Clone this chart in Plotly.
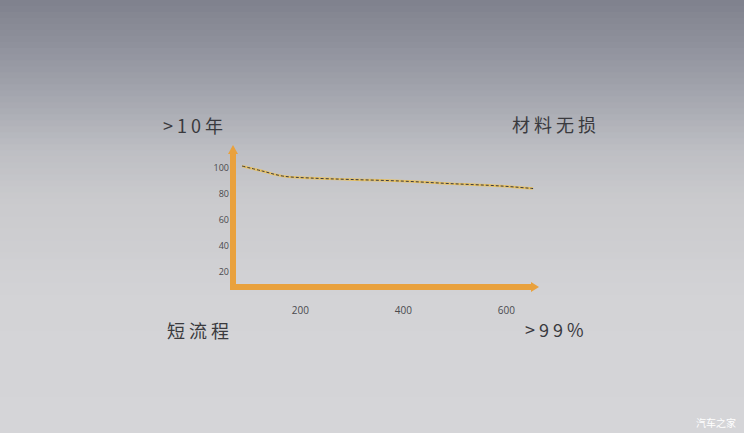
import plotly.graph_objects as go

# ---- data ----
x_vals = [87, 126, 166, 219, 296, 394, 491, 588, 652]
y_vals = [101.5, 97.7, 93.8, 92.3, 91.2, 90.0, 88.0, 86.2, 84.2]
x_ticks = [200, 400, 600]
y_ticks = [20, 40, 60, 80, 100]

W, H = 744, 433
L, R, T, B = 233, 537, 148, 289  # plot area in px

def px(xp):
    return (xp - L) / (R - L)

def py(yp):
    return (B - yp) / (B - T)

fig = go.Figure()
fig.add_trace(go.Scatter(x=x_vals, y=y_vals, mode="lines",
                         line=dict(color="#e8c264", width=2.4, shape="spline"),
                         hoverinfo="skip", showlegend=False))
fig.add_trace(go.Scatter(x=x_vals, y=y_vals, mode="lines",
                         line=dict(color="#3a3a40", width=1, dash="3px,2px", shape="spline"),
                         hoverinfo="skip", showlegend=False))

shapes = []
# background gradient bands
stops = [(0, (127, 129, 141)), (50, (145, 147, 158)), (100, (166, 168, 176)),
         (150, (189, 190, 195)), (200, (202, 202, 205)), (300, (211, 211, 214)),
         (433, (213, 213, 216))]

def col_at(y):
    for (y0, c0), (y1, c1) in zip(stops[:-1], stops[1:]):
        if y0 <= y <= y1:
            t = (y - y0) / (y1 - y0)
            return "rgb(%d,%d,%d)" % tuple(round(a + (b - a) * t) for a, b in zip(c0, c1))
    return "rgb(%d,%d,%d)" % stops[-1][1]

n = 72
for i in range(n):
    y0 = H * i / n
    y1 = H * (i + 1) / n + 0.8
    shapes.append(dict(type="rect", xref="paper", yref="paper", layer="below",
                       x0=px(-2), x1=px(W + 2), y0=py(y1), y1=py(y0),
                       fillcolor=col_at((y0 + y1) / 2), line=dict(width=0)))

orange = "#e9a13d"
# vertical axis
shapes.append(dict(type="line", xref="paper", yref="paper", x0=px(233), x1=px(233),
                   y0=py(290), y1=py(152), line=dict(color=orange, width=6)))
shapes.append(dict(type="path", xref="paper", yref="paper",
                   path="M %f %f L %f %f L %f %f Z" % (px(228), py(154), px(238), py(154), px(233), py(145)),
                   fillcolor=orange, line=dict(width=0)))
# horizontal axis
shapes.append(dict(type="line", xref="paper", yref="paper", x0=px(230), x1=px(533),
                   y0=py(287), y1=py(287), line=dict(color=orange, width=6)))
shapes.append(dict(type="path", xref="paper", yref="paper",
                   path="M %f %f L %f %f L %f %f Z" % (px(531), py(282), px(531), py(292), px(539), py(287)),
                   fillcolor=orange, line=dict(width=0)))

font_cjk = "Noto Sans CJK SC"
ann = []
def label(text, xp, yp, size, color="#3a3a3e", xanchor="left", spacing=None):
    if spacing:
        text = "<span style='letter-spacing:%dpx'>%s</span>" % (spacing, text)
    ann.append(dict(text=text, xref="paper", yref="paper", x=px(xp), y=py(yp),
                    xanchor=xanchor, yanchor="middle", showarrow=False,
                    font=dict(family=font_cjk, size=size, color=color)))

label("&gt;10年", 161, 125, 18, spacing=4)
label("材料无损", 510, 124, 18, spacing=4)
label("短流程", 165, 330, 18, spacing=4)
label("&gt;99%", 523, 329, 18, spacing=4)
label("汽车之家", 738, 422, 10, color="#ffffff", xanchor="right")

fig.update_layout(
    width=W, height=H,
    margin=dict(l=L, r=W - R, t=T, b=H - B),
    paper_bgcolor="#d3d3d6", plot_bgcolor="rgba(0,0,0,0)",
    shapes=shapes, annotations=ann,
    xaxis=dict(range=[69.3, 659.6], tickvals=x_ticks, showgrid=False, zeroline=False,
               showline=False, ticks="", ticklabelstandoff=14,
               tickfont=dict(family="Open Sans", size=10, color="#4a4a4e")),
    yaxis=dict(range=[6.9, 115.4], tickvals=y_ticks, showgrid=False, zeroline=False,
               showline=False, ticks="", ticklabelstandoff=3,
               tickfont=dict(family="Open Sans", size=9, color="#4a4a4e")),
    showlegend=False,
)
fig.write_html("out.html", config={"displayModeBar": False},
               post_script="document.body.style.margin='0';document.body.style.overflow='hidden';")
